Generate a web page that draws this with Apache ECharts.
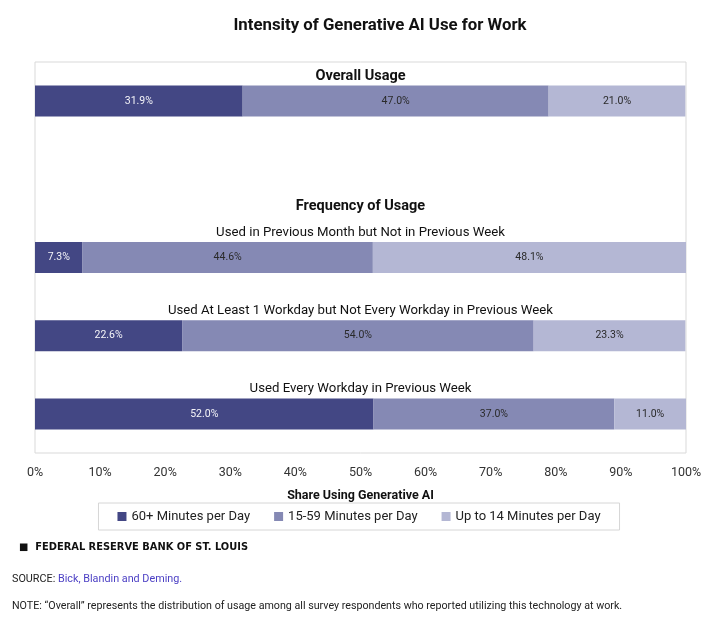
<!DOCTYPE html>
<html>
<head>
<meta charset="utf-8">
<script src="https://cdn.jsdelivr.net/npm/echarts@6/dist/echarts.min.js"></script>
<style>
html,body{margin:0;padding:0;background:#fff;}
#chart{width:718px;height:630px;}
</style>
</head>
<body>
<div id="chart"></div>
<script>
var categories = ['Overall', 'Gap', 'Month', 'SomeDays', 'EveryDay'];
var rowTitles = ['Overall Usage', 'Frequency of Usage', 'Used in Previous Month but Not in Previous Week', 'Used At Least 1 Workday but Not Every Workday in Previous Week', 'Used Every Workday in Previous Week'];
var seriesNames = ['60+ Minutes per Day', '15-59 Minutes per Day', 'Up to 14 Minutes per Day'];
var heavy = [31.9, null, 7.3, 22.6, 52.0];
var medium = [47.0, null, 44.6, 54.0, 37.0];
var light = [21.0, null, 48.1, 23.3, 11.0];
var xTicks = [0, 10, 20, 30, 40, 50, 60, 70, 80, 90, 100];

var colors = ['#434784', '#8589b4', '#b4b7d4'];
var labelColors = ['#f4f4f8', '#2a2a2a', '#2a2a2a'];
var bodyFont = 'Roboto, "Liberation Sans", sans-serif';

function barSeries(idx, data) {
  return {
    name: seriesNames[idx], type: 'bar', stack: 'all', barWidth: 31,
    data: data,
    itemStyle: { color: colors[idx] },
    label: {
      show: true, position: 'inside',
      color: labelColors[idx], fontSize: 10.5, fontFamily: bodyFont,
      formatter: function (p) { return p.value == null ? '' : p.value.toFixed(1) + '%'; }
    },
    emphasis: { disabled: true }
  };
}

var titleData = categories.map(function (c, i) {
  var isHeader = (i === 0 || i === 1);
  return {
    value: [50, c],
    label: {
      formatter: rowTitles[i],
      offset: [0, i === 1 ? 27 : -25],
      fontWeight: isHeader ? 'bold' : 'normal',
      fontSize: isHeader ? 14.5 : 13.2,
      color: '#111'
    }
  };
});

var chart = echarts.init(document.getElementById('chart'), null, { renderer: 'canvas' });
chart.setOption({
  animation: false,
  color: colors,
  title: {
    text: 'Intensity of Generative AI Use for Work',
    left: 375, top: 12, textAlign: 'center',
    textStyle: { fontFamily: bodyFont, fontWeight: 'bold', fontSize: 16.8, color: '#111' }
  },
  grid: { left: 35, right: 32, top: 62, bottom: 177, show: true, borderColor: '#d9d9d9', borderWidth: 1, backgroundColor: 'transparent' },
  xAxis: {
    type: 'value', min: 0, max: 100, interval: 10,
    axisLine: { show: false }, axisTick: { show: false }, splitLine: { show: false },
    axisLabel: { formatter: function (v) { return xTicks.indexOf(v) >= 0 ? v + '%' : ''; }, color: '#333', fontSize: 12.5, fontFamily: bodyFont, margin: 13 },
    name: 'Share Using Generative AI', nameLocation: 'middle', nameGap: 36,
    nameTextStyle: { fontWeight: 'bold', fontSize: 12.5, color: '#111', fontFamily: bodyFont }
  },
  yAxis: {
    type: 'category', data: categories, inverse: true,
    axisLine: { show: false }, axisTick: { show: false }, axisLabel: { show: false }, splitLine: { show: false }
  },
  legend: {
    data: seriesNames, top: 503, left: 'center',
    itemWidth: 9, itemHeight: 9, itemGap: 24, icon: 'rect',
    borderColor: '#d6d6d6', borderWidth: 1, padding: [7, 19, 7, 19],
    textStyle: { fontSize: 13, color: '#222', fontFamily: bodyFont }
  },
  series: [
    barSeries(0, heavy),
    barSeries(1, medium),
    barSeries(2, light),
    {
      type: 'scatter', symbolSize: 0, data: titleData, silent: true,
      itemStyle: { opacity: 1 },
      label: { show: true, position: 'inside', fontFamily: bodyFont, opacity: 1 },
      tooltip: { show: false }
    }
  ],
  graphic: [
    { type: 'text', left: 19, top: 542, style: { text: '\u25A0  FEDERAL RESERVE BANK OF ST. LOUIS', font: 'bold 9.9px "DejaVu Sans", sans-serif', fill: '#111' } },
    { type: 'text', left: 12, top: 574, style: {
        text: '{a|SOURCE: }{b|Bick, Blandin and Deming.}',
        rich: { a: { fontSize: 10.8, fontFamily: bodyFont, fill: '#222', color: '#222' }, b: { fontSize: 10.8, fontFamily: bodyFont, fill: '#4b3fc4', color: '#4b3fc4' } } } },
    { type: 'text', left: 12, top: 601, style: { text: 'NOTE: \u201COverall\u201D represents the distribution of usage among all survey respondents who reported utilizing this technology at work.', font: '10.7px Roboto, sans-serif', fill: '#222' } }
  ]
});
</script>
</body>
</html>
